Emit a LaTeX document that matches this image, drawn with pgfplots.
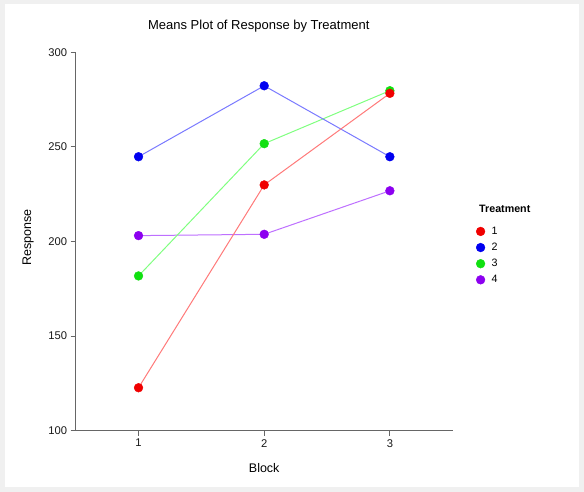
\documentclass[border=0pt]{standalone}
\usepackage{fontspec}
\setmainfont{Liberation Sans}
\usepackage{pgfplots}
\pgfplotsset{compat=1.18}
\definecolor{frame}{HTML}{F0F0F0}
\definecolor{axgray}{HTML}{666666}
\definecolor{mred}{HTML}{F00000}
\definecolor{mblue}{HTML}{0000F0}
\definecolor{mgreen}{HTML}{10E010}
\definecolor{mpurple}{HTML}{8C00F0}
\definecolor{lred}{HTML}{FF7A7A}
\definecolor{lblue}{HTML}{7A7AFF}
\definecolor{lgreen}{HTML}{80FF80}
\definecolor{lpurple}{HTML}{BE70FF}
\begin{document}
\begin{tikzpicture}[x=1bp,y=1bp]
\fill[frame] (0,0) rectangle (584,492);
\fill[white] (5,5) rectangle (579,488);
\useasboundingbox (0,0) rectangle (584,492);
\node[anchor=base, inner sep=0pt, font=\fontsize{13bp}{15bp}\selectfont] at (258.8,462.7) {Means Plot of Response by Treatment};
\node[anchor=base west, inner sep=0pt, font=\fontsize{10.7bp}{12bp}\selectfont\bfseries] at (479,279.3) {Treatment};
\begin{axis}[
  at={(75.7bp,61.3bp)}, anchor=south west,
  scale only axis, width=377bp, height=378.4bp,
  xmin=0.5, xmax=3.5, ymin=100, ymax=300,
  axis lines*=left,
  axis line style={axgray, line width=0.9bp},
  xtick={1,2,3}, ytick={100,150,200,250,300},
  tick align=outside, major tick length=5bp,
  tick style={axgray, line width=0.9bp},
  minor tick num=0,
  tick label style={font=\fontsize{11.2bp}{13bp}\selectfont, text=black!90},
  /pgf/number format/assume math mode=true,
  xlabel={Block}, ylabel={Response},
  label style={font=\fontsize{12.5bp}{14bp}\selectfont},
  xlabel style={at={(axis description cs:0.5,-0.0986)}, anchor=center},
  ylabel style={at={(axis description cs:-0.1265,0.5106)}, anchor=center, rotate=0},
  clip=false,
  reverse legend,
  legend cell align=left,
  legend image code/.code={\draw plot coordinates {(0bp,0bp)};},
  legend style={draw=none, fill=none, inner sep=0pt,
    at={(axis description cs:1.0618,0.5388)}, anchor=north west,
    font=\fontsize{10.7bp}{12bp}\selectfont,
    row sep=7.2bp,
    /tikz/every odd column/.append style={column sep=6.5bp},
    nodes={inner sep=0pt}},
]
\addplot[lpurple, line width=1bp, mark=*, mark size=4.4bp, mark options={draw=mpurple, fill=mpurple, line width=0.4bp}] coordinates {(1,203.1) (2,203.8) (3,226.8)};
\addlegendentry{4}
\addplot[lgreen, line width=1bp, mark=*, mark size=4.4bp, mark options={draw=mgreen, fill=mgreen, line width=0.4bp}] coordinates {(1,181.8) (2,251.7) (3,279.7)};
\addlegendentry{3}
\addplot[lblue, line width=1bp, mark=*, mark size=4.4bp, mark options={draw=mblue, fill=mblue, line width=0.4bp}] coordinates {(1,244.8) (2,282.3) (3,244.8)};
\addlegendentry{2}
\addplot[lred, line width=1bp, mark=*, mark size=4.4bp, mark options={draw=mred, fill=mred, line width=0.4bp}] coordinates {(1,122.7) (2,229.9) (3,278.3)};
\addlegendentry{1}
\end{axis}
\end{tikzpicture}
\end{document}
